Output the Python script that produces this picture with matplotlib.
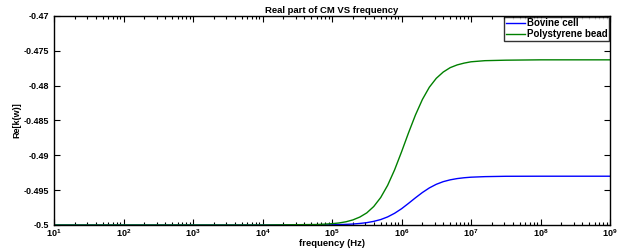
import numpy as np
import matplotlib
matplotlib.use('Agg')
import matplotlib.pyplot as plt
from matplotlib.ticker import LogLocator, NullFormatter

plt.rcParams['font.family'] = ['Liberation Sans', 'DejaVu Sans']
plt.rcParams['font.weight'] = 'bold'
plt.rcParams['mathtext.fontset'] = 'custom'
plt.rcParams['mathtext.rm'] = 'Liberation Sans:bold'
plt.rcParams['mathtext.it'] = 'Liberation Sans:bold'
plt.rcParams['mathtext.bf'] = 'Liberation Sans:bold'

# frequencies as log10(Hz)
log_freq = [1, 2, 3, 4, 4.8, 5.0, 5.1, 5.2, 5.3, 5.4, 5.5, 5.6, 5.7, 5.8, 5.9,
            6.0, 6.1, 6.2, 6.3, 6.4, 6.5, 6.6, 6.7, 6.8, 6.9, 7.0, 7.2, 7.5,
            8.0, 9.0]
bovine = [-0.5, -0.5, -0.5, -0.5, -0.49999, -0.49997, -0.49994, -0.49991,
          -0.49986, -0.49978, -0.49966, -0.49948, -0.49922, -0.49884, -0.49832,
          -0.49767, -0.49690, -0.49610, -0.49534, -0.49468, -0.49416, -0.49378,
          -0.49352, -0.49334, -0.49322, -0.49314, -0.49306, -0.49301,
          -0.4930, -0.4930]
polystyrene = [-0.5, -0.5, -0.5, -0.5, -0.49993, -0.49981, -0.49971, -0.49954,
               -0.49927, -0.49886, -0.49826, -0.49735, -0.49606, -0.49431, -0.49209,
               -0.48951, -0.48679, -0.48422, -0.48199, -0.48023, -0.47895, -0.47805,
               -0.47742, -0.47703, -0.47677, -0.47658, -0.47642, -0.47635,
               -0.4763, -0.4763]

freq = 10.0 ** np.array(log_freq)

fig = plt.figure(figsize=(6.23, 2.49), dpi=100)
ax = fig.add_axes([0.0867, 0.0964, 0.8925, 0.8396])

ax.plot(freq, bovine, color='#0000ff', lw=1.0, label='Bovine cell')
ax.plot(freq, polystyrene, color='#008000', lw=1.0, label='Polystyrene bead')

ax.set_xscale('log')
ax.set_xlim(1e1, 1e9)
ax.set_ylim(-0.5, -0.47)
ax.set_yticks(np.arange(-0.5, -0.4699, 0.005))
ax.set_yticklabels(['-0.5', '-0.495', '-0.49', '-0.485', '-0.48', '-0.475', '-0.47'])
ax.set_xticks([10.0 ** k for k in range(1, 10)])
ax.set_xticklabels([r'$10^{%d}$' % k for k in range(1, 10)])
ax.xaxis.set_minor_locator(LogLocator(base=10, subs=np.arange(2, 10), numticks=20))
ax.xaxis.set_minor_formatter(NullFormatter())

ax.tick_params(which='both', direction='in', top=True, right=True, labelsize=6.5, width=0.8)
ax.tick_params(which='major', length=4)
ax.tick_params(which='minor', length=2)
ax.tick_params(axis='x', pad=2)
for s in ax.spines.values():
    s.set_linewidth(1.0)

ax.set_title('Real part of CM VS frequency', fontsize=6.8, fontweight='bold', pad=2)
ax.set_xlabel('frequency (Hz)', fontsize=6.8, fontweight='bold', labelpad=0)
ax.set_ylabel('Re[k(w)]', fontsize=6.5, fontweight='bold', labelpad=2)

leg = ax.legend(loc='upper right', fontsize=7, frameon=True, fancybox=False,
                borderpad=0.15, handlelength=2.0, labelspacing=0.1, handletextpad=0.2,
                borderaxespad=0.1)
leg.get_frame().set_edgecolor('black')
leg.get_frame().set_linewidth(1.0)

fig.savefig('out.png', dpi=100)
